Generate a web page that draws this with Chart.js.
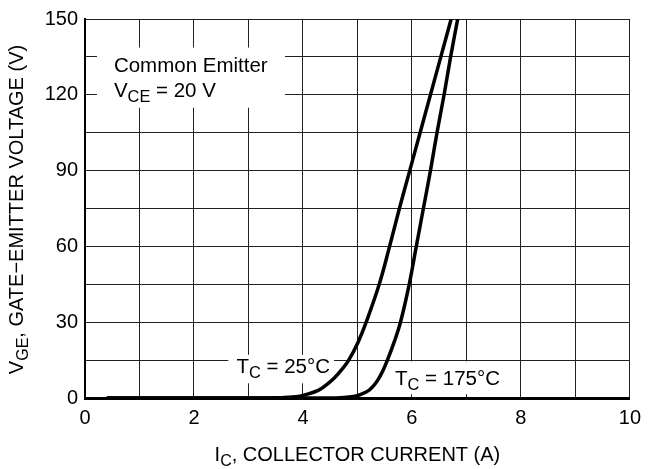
<!DOCTYPE html>
<html>
<head>
<meta charset="utf-8">
<script src="https://cdn.jsdelivr.net/npm/chart.js@4.4.1/dist/chart.umd.min.js"></script>
<style>
  html, body { margin: 0; padding: 0; background: #fff; }
  #wrap { width: 649px; height: 469px; }
</style>
</head>
<body>
<div id="wrap"><canvas id="chart"></canvas></div>
<script>
// values
const ic25 = [0.4, 3.3, 3.87, 4.05, 4.28, 4.43, 4.58, 4.71, 4.84, 5.01, 5.16, 5.4, 5.59, 5.77, 5.96, 6.15, 6.34, 6.53, 6.72];
const vge25 = [0, 0, 0.5, 1.3, 3, 5.2, 8, 11.2, 15, 22, 30, 45, 60, 75, 90, 105, 120, 135, 150];
const ic175 = [0.4, 4.6, 4.93, 5.07, 5.21, 5.29, 5.37, 5.46, 5.55, 5.68, 5.79, 5.95, 6.08, 6.21, 6.34, 6.46, 6.59, 6.71, 6.84];
const vge175 = [0, 0, 0.6, 1.5, 3, 4.7, 7, 10.5, 15, 22.5, 30, 45, 60, 75, 90, 105, 120, 135, 150];
const xLabels = [0, 2, 4, 6, 8, 10];
const yLabels = [0, 30, 60, 90, 120, 150];

const FONT = '"Liberation Sans", Arial, Helvetica, sans-serif';

function toPoints(xs, ys) {
  return xs.map((x, i) => ({ x: x, y: ys[i] }));
}

// draw text with subscript parts, parts = [[text, isSub], ...]
function drawRich(ctx, parts, x, y, size, align) {
  const subSize = size * 0.8;
  let total = 0;
  parts.forEach(p => {
    ctx.font = (p[1] ? subSize : size) + 'px ' + FONT;
    total += ctx.measureText(p[0]).width;
  });
  let cx = align === 'center' ? x - total / 2 : x;
  ctx.textAlign = 'left';
  ctx.textBaseline = 'alphabetic';
  parts.forEach(p => {
    ctx.font = (p[1] ? subSize : size) + 'px ' + FONT;
    ctx.fillText(p[0], cx, p[1] ? y + 5 : y);
    cx += ctx.measureText(p[0]).width;
  });
}

const labels = {
  id: 'labels',
  beforeDatasetsDraw(chart) {
    const ctx = chart.ctx;
    const xs = chart.scales.x, ys = chart.scales.y;
    const px = v => xs.getPixelForValue(v);
    const py = v => ys.getPixelForValue(v);
    ctx.save();
    ctx.fillStyle = '#fff';
    // white boxes that break the grid behind the notes
    ctx.fillRect(px(0.22), py(138.7), px(3.67) - px(0.22), py(114.9) - py(138.7));
    ctx.fillRect(px(2.63), py(17.1), px(4.57) - px(2.63), py(5.8) - py(17.1));
    ctx.fillRect(px(5.67), py(14.5), px(7.8) - px(5.67), py(1.5) - py(14.5));
    ctx.fillStyle = '#000';
    drawRich(ctx, [['Common Emitter', false]], px(0.53), py(129.1), 20.5, 'left');
    drawRich(ctx, [['V', false], ['CE', true], [' = 20 V', false]], px(0.53), py(119.3), 20.5, 'left');
    drawRich(ctx, [['T', false], ['C', true], [' = 25°C', false]], px(2.78), py(9.74), 20.5, 'left');
    drawRich(ctx, [['T', false], ['C', true], [' = 175°C', false]], px(5.69), py(5.06), 20.5, 'left');
    ctx.restore();
  },
  afterDraw(chart) {
    const ctx = chart.ctx;
    const area = chart.chartArea;
    ctx.save();
    ctx.fillStyle = '#000';
    drawRich(ctx, [['I', false], ['C', true], [', COLLECTOR CURRENT (A)', false]],
      (area.left + area.right) / 2, 461, 20, 'center');
    ctx.translate(23, (area.top + area.bottom) / 2 + 1);
    ctx.rotate(-Math.PI / 2);
    drawRich(ctx, [['V', false], ['GE', true], [', GATE\u2212EMITTER VOLTAGE (V)', false]],
      0, 0, 20, 'center');
    ctx.restore();
  }
};

const lineStyle = {
  borderColor: '#000',
  borderWidth: 3.5,
  pointRadius: 0,
  fill: false,
  tension: 0.4
};

new Chart(document.getElementById('chart'), {
  type: 'line',
  data: {
    datasets: [
      Object.assign({ label: 'TC = 25°C', data: toPoints(ic25, vge25) }, lineStyle),
      Object.assign({ label: 'TC = 175°C', data: toPoints(ic175, vge175) }, lineStyle)
    ]
  },
  options: {
    responsive: true,
    maintainAspectRatio: false,
    animation: false,
    layout: { padding: { left: 0, right: 17, top: 13, bottom: 0 } },
    plugins: { legend: { display: false }, tooltip: { enabled: false } },
    scales: {
      x: {
        type: 'linear',
        min: 0, max: 10,
        afterFit: s => { s.height = 71; },
        grid: { color: '#222', lineWidth: 1, drawTicks: false },
        border: { color: '#000', width: 3 },
        ticks: {
          stepSize: 1,
          padding: 8,
          color: '#000',
          font: { family: FONT, size: 20 },
          maxRotation: 0,
          autoSkip: false,
          callback: v => xLabels.includes(v) ? v : ''
        }
      },
      y: {
        min: 0, max: 150,
        afterFit: s => { s.width = 85; },
        grid: { color: '#222', lineWidth: 1, drawTicks: false },
        border: { color: '#000', width: 2 },
        ticks: {
          stepSize: 15,
          padding: 7,
          color: '#000',
          font: { family: FONT, size: 20 },
          autoSkip: false,
          callback: v => yLabels.includes(v) ? v : ''
        }
      }
    }
  },
  plugins: [labels]
});
</script>
</body>
</html>
